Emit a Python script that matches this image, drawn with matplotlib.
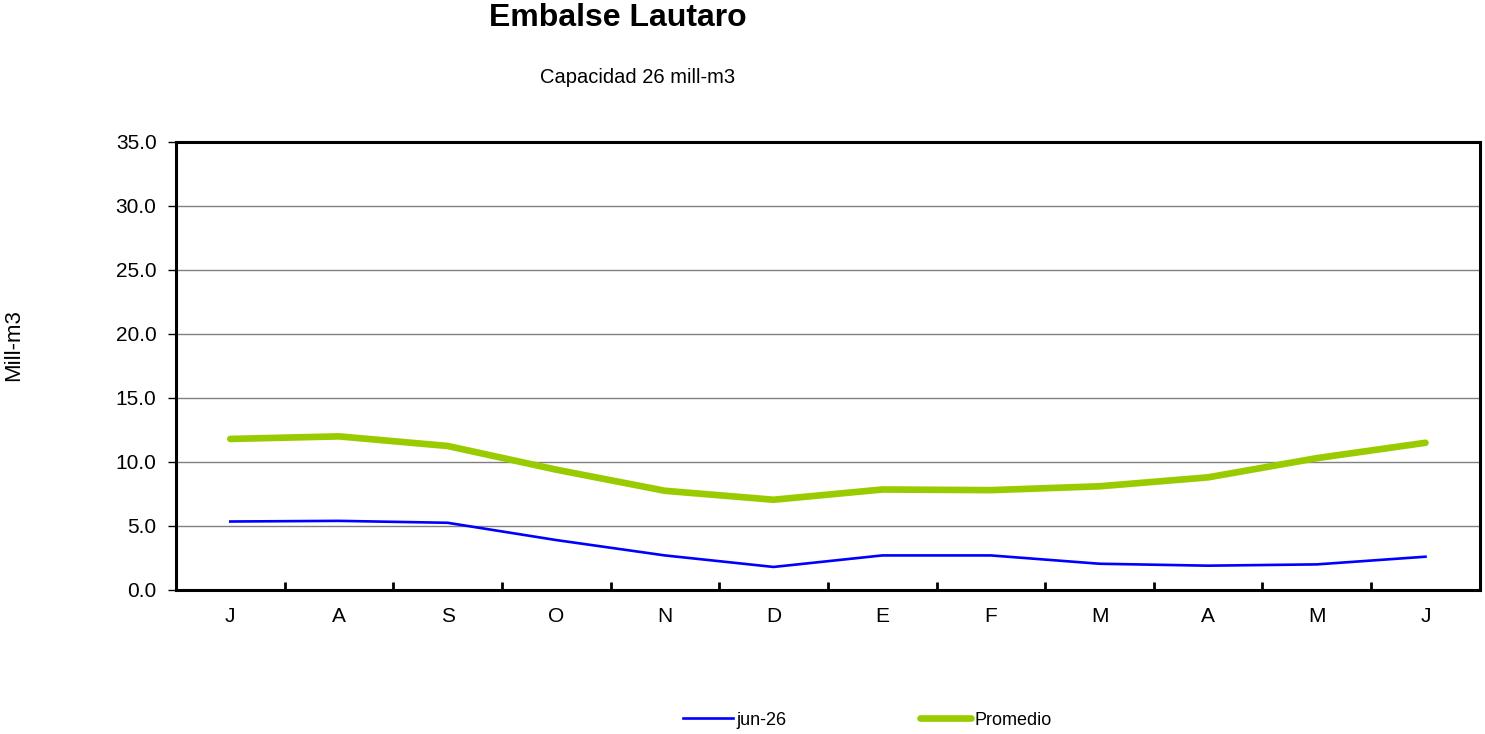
import numpy as np
import matplotlib.pyplot as plt

plt.rcParams['font.family'] = ['Liberation Sans', 'DejaVu Sans']

# months from July to June
months = ['J', 'A', 'S', 'O', 'N', 'D', 'E', 'F', 'M', 'A', 'M', 'J']
jun26 = [5.35, 5.4, 5.25, 3.9, 2.7, 1.8, 2.7, 2.7, 2.05, 1.9, 2.0, 2.6]
promedio = [11.8, 12.0, 11.25, 9.4, 7.75, 7.05, 7.85, 7.8, 8.1, 8.8, 10.3, 11.5]

fig = plt.figure(figsize=(14.85, 7.34), dpi=100)
ax = fig.add_axes([0.1185, 0.1962, 0.878, 0.6104])

x = np.arange(len(months))
ax.plot(x, jun26, color='#0000FF', lw=1.9, label='jun-26')
ax.plot(x, promedio, color='#99CC00', lw=4.8, label='Promedio', solid_capstyle='round')

ax.set_xlim(-0.5, len(months) - 0.5)
ax.set_ylim(0, 35)
ax.set_yticks(np.arange(0, 36, 5))
ax.set_yticklabels(['%.1f' % v for v in np.arange(0, 36, 5)], fontsize=15)
ax.yaxis.grid(True, color='#808080', lw=1)
ax.set_axisbelow(True)

# tick marks between months, labels at month centres
ax.set_xticks(np.arange(0.5, len(months) - 1, 1))
ax.set_xticklabels([])
ax.set_xticks(x, minor=True)
ax.set_xticklabels(months, minor=True, fontsize=15)
ax.tick_params(axis='x', which='major', direction='in', length=6, width=2)
ax.tick_params(axis='x', which='minor', length=0, pad=12)
ax.tick_params(axis='y', direction='out', length=6, width=1, pad=8)

for s in ax.spines.values():
    s.set_linewidth(2.2)
    s.set_color('black')

fig.text(0.0095, 0.53, 'Mill-m3', rotation=90, ha='center', va='center', fontsize=16)

fig.text(0.416, 0.975, 'Embalse Lautaro', ha='center', va='center',
         fontsize=23, fontweight='bold')
fig.text(0.429, 0.894, 'Capacidad 26 mill-m3', ha='center', va='center', fontsize=14.5)

fig.legend(loc='center', bbox_to_anchor=(0.584, 0.019), ncol=2, frameon=False,
           fontsize=13, handlelength=2.8, handletextpad=0.2, columnspacing=7.4)

fig.savefig('out.png', dpi=100)
